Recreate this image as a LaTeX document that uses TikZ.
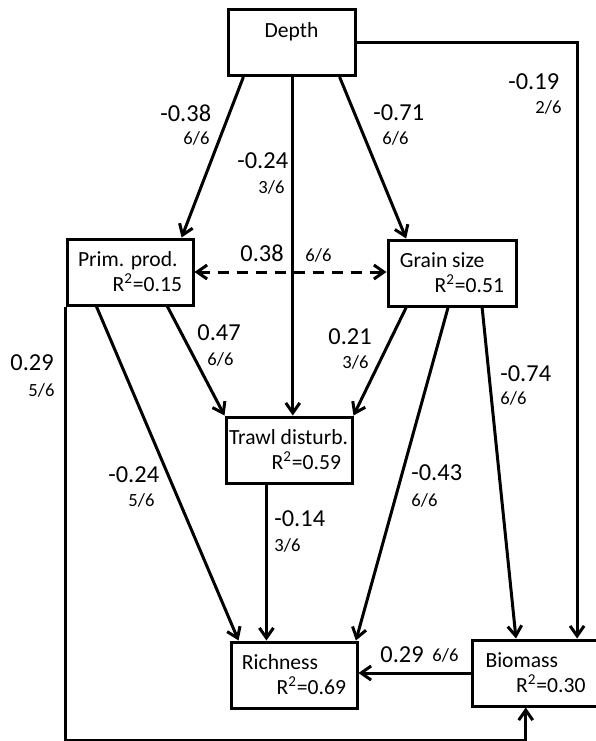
\documentclass[tikz,border=0pt]{standalone}
\usepackage{fontspec}
\setmainfont{Carlito}
\usetikzlibrary{arrows.meta,calc}
\newcommand{\twolines}[3]{\parbox{#1}{#2\\\hspace*{\fill}#3}}
\tikzset{
  var/.style={draw, line width=1.5pt, minimum width=63pt, minimum height=33pt,
    inner sep=0pt, font=\fontsize{10.8}{12.5}\selectfont},
  coef/.style={inner sep=0pt, anchor=west, font=\fontsize{12.2}{14}\selectfont},
  frac/.style={inner sep=0pt, anchor=west, font=\fontsize{9.3}{11}\selectfont},
  link/.style={line width=1.5pt, ->},
}
\begin{document}
\begin{tikzpicture}[x=0.5pt,y=-0.5pt,>={Straight Barb[length=5pt,width=7pt]}]
  \useasboundingbox (0,0) rectangle (596,741);
  % variables
  \node[var, minimum width=63.5pt, text depth=12.5pt] (depth) at (291.5,42.5) {Depth};
  \node[var] (prim) at (130,272) {\twolines{52pt}{Prim. prod.}{R\textsuperscript{2}=0.15}};
  \node[var, minimum width=64pt] (grain) at (452,273) {\twolines{52pt}{Grain size}{R\textsuperscript{2}=0.51}};
  \node[var] (trawl) at (289,450) {\twolines{60pt}{Trawl disturb.}{R\textsuperscript{2}=0.59\hspace*{4pt}}};
  \node[var] (rich) at (294,675) {\twolines{52pt}{Richness}{R\textsuperscript{2}=0.69}};
  \node[var, minimum width=63.5pt] (bio) at (535.5,673) {\twolines{50pt}{Biomass}{R\textsuperscript{2}=0.30}};

  % points on the box edges
  \coordinate (d1) at ($(depth.south west)!0.13!(depth.south east)$);
  \coordinate (d2) at ($(depth.south west)!0.51!(depth.south east)$);
  \coordinate (d3) at ($(depth.south west)!0.87!(depth.south east)$);
  \coordinate (p1) at ($(prim.north west)!0.9!(prim.north east)$);
  \coordinate (p2) at ($(prim.south west)!0.79!(prim.south east)$);
  \coordinate (p3) at ($(prim.south west)!0.24!(prim.south east)$);
  \coordinate (g1) at ($(grain.north west)!0.15!(grain.north east)$);
  \coordinate (g2) at ($(grain.south west)!0.15!(grain.south east)$);
  \coordinate (g3) at ($(grain.south west)!0.47!(grain.south east)$);
  \coordinate (g4) at ($(grain.south west)!0.73!(grain.south east)$);
  \coordinate (t1) at ($(trawl.south west)!0.325!(trawl.south east)$);
  \coordinate (r1) at ($(rich.north west)!0.07!(rich.north east)$);
  \coordinate (r3) at ($(rich.north west)!0.98!(rich.north east)$);
  \coordinate (b1) at ($(bio.north west)!0.82!(bio.north east)$);
  \coordinate (b2) at ($(bio.south west)!0.425!(bio.south east)$);
  \coordinate (b3) at ($(bio.north west)!0.35!(bio.north east)$);

  % paths
  \draw[link] (d1) -- (p1);
  \draw[link] (d2) -- (d2 |- trawl.north);
  \draw[link] (d3) -- (g1);
  \draw[link] (depth.east) -| (b1);
  \draw[link, <->, dash pattern=on 5.5pt off 4pt] (prim.east) -- (prim.east -| grain.west);
  \draw[link] (p2) -- (trawl.north west);
  \draw[link] (p3) -- (r1);
  \draw[link] (prim.south west) -- ++(0,434) -| (b2);
  \draw[link] (g2) -- (trawl.north east);
  \draw[link] (g3) -- (r3);
  \draw[link] (g4) -- (b3);
  \draw[link] (t1) -- (t1 |- rich.north);
  \draw[link] (bio.west) -- (bio.west -| rich.east);

  % coefficients
  \node[coef] (c1) at (160,113) {-0.38};
  \node[frac] (f1) at (183,138) {6/6};
  \node[coef] (c2) at (237,161) {-0.24};
  \node[frac] (f2) at (258,187) {3/6};
  \node[coef] (c3) at (373,113) {-0.71};
  \node[frac] (f3) at (382,138) {6/6};
  \node[coef] (c4) at (508,82) {-0.19};
  \node[frac] (f4) at (535,107) {2/6};
  \node[coef] (c5) at (240,253) {0.38};
  \node[frac] (f5) at (305,255) {6/6};
  \node[coef] (c6) at (10,363) {0.29};
  \node[frac] (f6) at (28,390) {5/6};
  \node[coef] (c7) at (197,333) {0.47};
  \node[frac] (f7) at (207,359) {6/6};
  \node[coef] (c8) at (108,475) {-0.24};
  \node[frac] (f8) at (128,500) {5/6};
  \node[coef] (c9) at (274,519) {-0.14};
  \node[frac] (f9) at (274,545) {3/6};
  \node[coef] (c10) at (328,337) {0.21};
  \node[frac] (f10) at (342,362) {3/6};
  \node[coef] (c11) at (500,374) {-0.74};
  \node[frac] (f11) at (500,398) {6/6};
  \node[coef] (c12) at (411,473) {-0.43};
  \node[frac] (f12) at (411,500) {6/6};
  \node[coef] (c13) at (380,655) {0.29};
  \node[frac] (f13) at (432,655) {6/6};
\end{tikzpicture}
\end{document}
